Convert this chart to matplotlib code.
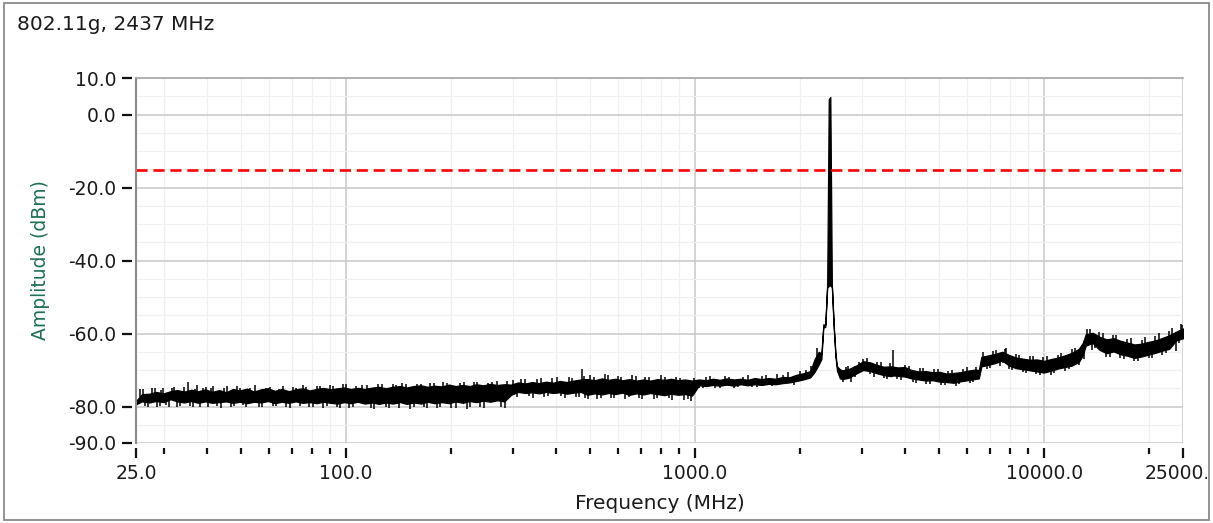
import matplotlib
matplotlib.use("Agg")
import matplotlib.pyplot as plt
from matplotlib.patches import Rectangle
from matplotlib.ticker import FixedLocator, NullFormatter
from matplotlib.transforms import offset_copy

# ---------------- data ----------------
title = "802.11g, 2437 MHz"
x_label = "Frequency (MHz)"
y_label = "Amplitude (dBm)"

# sweep frequencies (MHz) with upper / lower edge of the trace's solid core (dBm)
freq_mhz = [
    25, 26, 27.3, 28.5, 30, 31.4, 32.8, 34.4, 36, 37.7,
    39.5, 41.3, 43.3, 45.3, 47.4, 49.6, 52, 54.4, 57, 59.7,
    62.5, 65.4, 68.5, 71.7, 75, 78.6, 82.3, 86.1, 90.2, 94.4,
    98.8, 103, 108, 113, 119, 124, 130, 136, 143, 149,
    156, 164, 171, 179, 188, 197, 206, 216, 226, 236,
    247, 259, 271, 284, 297, 311, 326, 341, 357, 374,
    391, 410, 429, 449, 470, 492, 515, 540, 565, 591,
    619, 648, 679, 711, 744, 779, 816, 854, 894, 936,
    980, 1026, 1074, 1125, 1178, 1233, 1291, 1351, 1415, 1481,
    1551, 1624, 1700, 1780, 1863, 1951, 2042, 2138, 2200, 2260,
    2300, 2330, 2360, 2390, 2415, 2440, 2465, 2495, 2525, 2550,
    2600, 2640, 2760, 2890, 3030, 3170, 3320, 3470, 3640, 3700,
    3810, 3990, 4170, 4370, 4580, 4790, 5020, 5250, 5500, 5760,
    6030, 6310, 6500, 6610, 6920, 7240, 7580, 7940, 8310, 8700,
    9110, 9540, 9990, 10460, 10950, 11460, 12000, 12570, 12900, 13160,
    13780, 14420, 15100, 15810, 16560, 17330, 18150, 19000, 19890, 20830,
    21810, 22830, 23900, 25000,
]
amp_hi = [
    -78.5, -76.6, -76.5, -76.0, -76.4, -75.8, -75.5, -75.9, -75.4, -75.8,
    -75.3, -76.0, -75.5, -76.1, -75.2, -75.6, -75.1, -75.9, -75.3, -75.0,
    -75.7, -75.2, -75.8, -75.3, -75.0, -75.6, -75.2, -74.9, -75.3, -75.0,
    -74.8, -75.2, -74.9, -75.2, -74.8, -74.6, -75.0, -74.6, -74.4, -74.8,
    -74.4, -74.2, -74.6, -74.3, -74.5, -74.0, -74.4, -74.1, -74.4, -73.9,
    -74.2, -73.8, -74.1, -73.9, -74.0, -73.4, -73.7, -73.3, -73.6, -73.2,
    -73.5, -73.0, -73.3, -72.9, -72.6, -72.5, -72.8, -72.3, -72.7, -72.4,
    -72.8, -72.5, -72.9, -72.6, -72.9, -72.5, -72.7, -72.4, -72.8, -72.6,
    -72.9, -72.6, -72.8, -72.4, -72.7, -72.3, -72.6, -72.4, -72.7, -72.2,
    -72.5, -72.2, -72.4, -71.9, -72.0, -71.3, -70.9, -70.3, -67.0, -65.0,
    -65.5, -57.5, -57.6, -46.5, 4.2, 4.8, -46.6, -57.6, -65.8, -69.0,
    -69.8, -70.1, -69.7, -68.8, -67.6, -67.9, -68.6, -69.1, -69.0, -69.1,
    -69.3, -69.2, -70.0, -70.4, -70.3, -70.6, -70.5, -71.0, -70.8, -70.6,
    -70.2, -69.9, -70.0, -66.4, -66.0, -65.6, -65.0, -65.9, -66.6, -66.9,
    -67.2, -67.1, -67.5, -67.0, -66.6, -66.0, -65.3, -64.2, -62.6, -60.2,
    -59.8, -60.9, -61.6, -61.3, -62.0, -62.5, -63.0, -62.8, -62.3, -61.9,
    -61.2, -60.5, -59.5, -58.6,
]
amp_lo = [
    -79.4, -78.6, -78.9, -78.5, -78.8, -78.0, -78.6, -78.9, -78.5, -79.0,
    -78.6, -79.0, -78.8, -78.6, -79.0, -78.7, -79.1, -78.7, -78.9, -78.5,
    -79.1, -78.7, -79.0, -78.6, -79.0, -78.8, -79.1, -78.7, -79.0, -79.2,
    -78.8, -79.1, -78.7, -79.2, -78.9, -79.3, -78.9, -79.2, -78.8, -79.3,
    -78.9, -79.2, -78.7, -79.1, -78.8, -79.1, -78.6, -79.0, -78.5, -78.8,
    -78.4, -78.7, -78.3, -78.6, -76.8, -76.0, -76.3, -76.1, -76.4, -76.0,
    -76.3, -76.1, -76.5, -76.2, -76.0, -76.8, -76.4, -76.7, -76.3, -76.6,
    -76.2, -76.8, -76.4, -76.7, -76.3, -76.6, -76.9, -76.5, -76.8, -76.6,
    -77.0, -74.2, -74.4, -74.1, -74.3, -74.0, -74.3, -73.9, -74.2, -73.9,
    -74.1, -73.8, -73.9, -73.6, -73.4, -73.0, -72.6, -72.0, -70.5, -68.5,
    -67.0, -58.3, -58.2, -47.3, -47.0, -46.8, -47.3, -58.3, -66.5, -70.2,
    -72.3, -72.5, -72.1, -71.0, -70.0, -70.3, -70.9, -71.4, -71.7, -71.5,
    -71.6, -71.8, -72.3, -72.6, -72.9, -72.8, -73.2, -73.3, -73.5, -73.1,
    -72.8, -72.5, -72.3, -69.0, -68.6, -68.1, -67.4, -68.8, -69.5, -69.8,
    -70.1, -70.4, -70.7, -70.2, -69.6, -69.2, -68.8, -67.8, -66.0, -63.3,
    -62.6, -64.5, -65.4, -64.9, -65.7, -66.1, -66.7, -66.3, -65.8, -65.3,
    -64.7, -64.2, -61.9, -61.3,
]

# noise strokes sticking out of the core (MHz, bottom dBm, top dBm)
spike_freq = [
    26.2, 27.0, 28.3, 29.2, 29.9, 31.0, 32.2, 33.5, 35.2, 36.5,
    37.4, 39.0, 40.3, 41.5, 43.8, 45.6, 47.8, 49.6, 51.5, 54.8,
    57.5, 60.5, 63.0, 65.9, 69.0, 72.0, 75.2, 78.5, 82.5, 86.0,
    89.9, 94.0, 98.0, 102, 107, 115, 120, 127, 133, 139,
    145, 152, 160, 167, 174, 182, 190, 200, 212, 222,
    232, 242, 255, 270, 285, 300, 318, 335, 352, 370,
    390, 412, 435, 455, 473, 485, 500, 525, 550, 575,
    600, 630, 660, 690, 720, 760, 800, 840, 880, 930,
    975, 1050, 1100, 1180, 1250, 1330, 1420, 1500, 1600, 1720,
    1850, 2000, 2150, 2230, 2700, 2800, 2950, 3100, 3250, 3400,
    3550, 3700, 3900, 4100, 4300, 4500, 4700, 4950, 5200, 5450,
    5700, 6000, 6250, 6700, 7000, 7300, 7600, 7800, 8100, 8500,
    8900, 9300, 9700, 10200, 10700, 11200, 11800, 12300, 13000, 13500,
    14000, 14700, 15400, 16100, 16900, 17700, 18600, 19500, 20400, 21300,
    22300, 23300, 24300, 24700,
]
spike_lo = [
    -78.0, -80.0, -78.0, -79.9, -78.0, -80.1, -78.0, -79.8, -78.0, -80.2,
    -78.0, -78.0, -80.0, -78.0, -80.3, -78.0, -79.9, -78.0, -80.1, -78.0,
    -80.2, -78.0, -79.8, -78.0, -80.4, -78.0, -78.0, -80.0, -78.0, -80.3,
    -78.0, -80.1, -78.0, -80.4, -78.0, -78.0, -80.6, -78.0, -80.3, -78.0,
    -78.0, -80.8, -78.0, -80.2, -78.0, -80.5, -78.0, -80.3, -78.0, -80.6,
    -78.0, -80.1, -78.0, -78.0, -80.5, -76.0, -76.0, -77.0, -76.0, -77.3,
    -76.0, -77.2, -76.0, -77.5, -76.0, -77.8, -76.0, -78.0, -76.0, -77.6,
    -76.0, -77.9, -76.0, -77.7, -76.0, -78.0, -76.0, -77.8, -76.0, -78.2,
    -78.4, -74.8, -73.5, -74.9, -73.5, -74.7, -73.5, -74.6, -73.5, -73.5,
    -72.5, -72.0, -71.5, -68.0, -71.5, -73.4, -70.0, -69.0, -71.8, -70.0,
    -72.5, -71.0, -72.8, -71.0, -73.5, -71.5, -73.8, -71.5, -74.0, -72.0,
    -73.8, -71.5, -73.2, -68.0, -69.5, -67.0, -68.2, -67.0, -70.0, -68.0,
    -70.8, -68.5, -71.3, -68.5, -70.8, -67.5, -69.8, -66.5, -67.0, -61.0,
    -64.0, -62.0, -66.5, -63.0, -67.0, -63.5, -67.5, -63.0, -66.6, -62.0,
    -65.4, -61.0, -62.5, -60.0,
]
spike_hi = [
    -75.2, -77.0, -74.8, -77.0, -75.0, -77.0, -74.6, -77.0, -73.2, -77.0,
    -74.0, -75.0, -77.0, -74.3, -77.0, -74.5, -77.0, -75.0, -77.0, -74.2,
    -77.0, -74.6, -77.0, -74.3, -77.0, -74.8, -74.0, -77.0, -74.5, -77.0,
    -74.2, -77.0, -73.8, -77.0, -74.3, -74.0, -77.0, -73.8, -77.0, -74.2,
    -73.6, -77.0, -73.9, -77.0, -73.5, -77.0, -73.4, -77.0, -73.6, -77.0,
    -73.2, -77.0, -73.5, -73.0, -77.0, -72.8, -72.5, -75.0, -72.6, -75.0,
    -72.2, -75.0, -72.0, -75.0, -69.8, -75.0, -71.4, -75.0, -71.2, -75.0,
    -71.6, -75.0, -71.3, -75.0, -71.8, -75.0, -71.5, -75.0, -71.9, -75.0,
    -75.0, -73.0, -71.6, -73.0, -71.8, -73.0, -71.4, -73.0, -71.5, -71.2,
    -70.5, -70.2, -69.0, -64.0, -69.3, -71.0, -67.8, -66.8, -70.0, -67.9,
    -70.0, -64.6, -70.5, -68.8, -71.5, -69.4, -71.5, -69.6, -72.0, -70.0,
    -72.0, -69.2, -71.0, -65.2, -67.0, -64.6, -66.0, -64.0, -68.0, -65.8,
    -69.0, -66.3, -69.0, -66.2, -68.5, -65.4, -67.5, -64.0, -64.5, -58.8,
    -61.5, -59.8, -64.0, -60.5, -64.5, -61.2, -65.0, -61.0, -64.0, -59.8,
    -63.0, -58.5, -60.0, -57.3,
]

# second, finer set of smaller noise strokes between the first ones
fine_freq = [
    25.6, 26.6, 27.7, 28.8, 29.5, 30.4, 31.6, 32.8, 34.3, 35.8,
    36.9, 38.2, 39.7, 40.9, 42.6, 44.7, 46.7, 48.7, 50.5, 53.1,
    56.1, 59.0, 61.7, 64.4, 67.4, 70.5, 73.6, 76.8, 80.5, 84.2,
    88.0, 92.0, 96.0, 100, 104.5, 111, 117.5, 123.5, 130, 136,
    142, 148.5, 156, 163.5, 170.5, 178, 186, 195, 206, 217,
    227, 237, 248, 262, 277, 290, 309, 326, 343, 361,
    380, 401, 423, 445, 464, 479, 492, 512, 537, 562,
    587, 615, 645, 675, 705, 740, 780, 820, 860, 905,
    952, 990, 1025, 1075, 1140, 1215, 1290, 1375, 1460, 1550,
    1660, 1790, 1920, 2080, 2650, 2750, 2870, 3020, 3170, 3320,
    3480, 3620, 3800, 4000, 4200, 4400, 4600, 4820, 5080, 5320,
    5580, 5850, 6120, 6400, 6850, 7150, 7450, 7700, 7950, 8300,
    8700, 9100, 9500, 9950, 10450, 10950, 11500, 12050, 12600, 13250,
    13750, 14350, 15050, 15750, 16500, 17300, 18150, 19050, 19950, 20850,
    21800, 22800, 23800, 24900,
]
fine_lo = [
    -77.5, -79.9, -77.5, -80.0, -77.5, -79.7, -77.5, -80.1, -77.5, -79.8,
    -77.5, -80.2, -77.5, -77.5, -79.9, -77.5, -80.0, -77.5, -79.7, -77.5,
    -80.1, -77.5, -79.9, -77.5, -80.0, -77.5, -79.8, -77.5, -80.2, -77.5,
    -79.9, -77.5, -80.3, -77.5, -80.0, -77.0, -80.4, -77.0, -80.1, -77.0,
    -80.5, -77.0, -80.2, -77.0, -80.4, -77.0, -80.0, -77.0, -80.3, -77.0,
    -80.1, -77.0, -80.4, -77.0, -80.0, -77.0, -77.4, -75.0, -77.6, -75.0,
    -77.2, -75.0, -77.7, -75.0, -77.5, -75.0, -77.9, -75.0, -77.6, -75.0,
    -77.8, -75.0, -77.5, -75.0, -78.0, -75.0, -77.7, -75.0, -78.1, -75.0,
    -77.9, -75.0, -75.0, -73.5, -74.8, -73.5, -74.9, -73.5, -74.7, -73.5,
    -74.5, -73.0, -74.0, -72.0, -73.3, -71.0, -72.0, -69.0, -71.2, -69.5,
    -72.3, -70.0, -72.6, -70.5, -73.4, -71.5, -73.9, -71.5, -74.2, -72.0,
    -74.3, -71.8, -73.6, -71.0, -69.8, -66.8, -69.0, -66.3, -69.8, -67.5,
    -70.6, -68.2, -71.2, -68.5, -71.4, -67.8, -70.2, -66.3, -68.7, -61.0,
    -64.6, -61.6, -66.4, -62.3, -66.8, -63.5, -67.6, -63.8, -66.8, -62.6,
    -65.8, -61.4, -64.9, -60.0,
]
fine_hi = [
    -75.3, -77.5, -74.9, -77.5, -75.4, -77.5, -75.0, -77.5, -74.7, -77.5,
    -75.1, -77.5, -74.6, -75.0, -77.5, -74.9, -77.5, -74.5, -77.5, -75.0,
    -77.5, -74.8, -77.5, -75.1, -77.5, -74.6, -77.5, -74.7, -77.5, -74.4,
    -77.5, -74.5, -77.5, -73.9, -77.0, -74.0, -77.0, -73.7, -77.0, -73.9,
    -77.0, -73.8, -77.0, -73.7, -77.0, -73.6, -77.0, -73.5, -77.0, -73.4,
    -77.0, -73.3, -77.0, -73.4, -77.0, -73.1, -75.0, -72.4, -75.0, -72.3,
    -75.0, -72.0, -75.0, -72.1, -75.0, -71.6, -75.0, -71.8, -75.0, -71.5,
    -75.0, -71.9, -75.0, -71.7, -75.0, -72.0, -75.0, -71.8, -75.0, -72.1,
    -75.0, -72.3, -73.5, -71.9, -73.5, -71.7, -73.5, -71.8, -73.5, -71.6,
    -73.0, -71.3, -72.0, -70.0, -71.0, -69.0, -69.0, -66.9, -69.5, -67.8,
    -70.0, -68.2, -70.5, -68.5, -71.5, -69.5, -71.5, -69.6, -72.0, -70.2,
    -72.0, -69.8, -71.0, -69.2, -66.8, -64.8, -66.3, -64.3, -67.5, -65.5,
    -68.2, -66.2, -68.5, -66.5, -67.8, -65.8, -66.3, -64.3, -66.0, -58.9,
    -61.6, -59.6, -62.3, -60.3, -63.5, -61.5, -63.8, -61.8, -62.6, -60.6,
    -61.4, -59.4, -60.0, -57.8,
]
limit_dbm = -15.2

x_ticks = [25, 100, 1000, 10000, 25000]
x_tick_labels = ["25.0", "100.0", "1000.0", "10000.0", ""]
x_last_label = "25000.0"
x_minor = [30, 40, 50, 60, 70, 80, 90,
           200, 300, 400, 500, 600, 700, 800, 900,
           2000, 3000, 4000, 5000, 6000, 7000, 8000, 9000, 20000]
y_ticks = [10, 0, -20, -40, -60, -80, -90]
y_tick_labels = ["10.0", "0.0", "-20.0", "-40.0", "-60.0", "-80.0", "-90.0"]
y_minor = [5, -5, -10, -15, -25, -30, -35, -45, -50, -55, -65, -70, -75, -85]

assert len(freq_mhz) == len(amp_hi) == len(amp_lo)
assert len(spike_freq) == len(spike_lo) == len(spike_hi)
assert len(fine_freq) == len(fine_lo) == len(fine_hi)

# ---------------- figure ----------------
W, H = 1213, 523
plt.rcParams["font.family"] = ["DejaVu Sans"]
plt.rcParams["lines.scale_dashes"] = False
fig = plt.figure(figsize=(W / 100, H / 100), dpi=100)
fig.patch.set_facecolor("white")

L, R, T, B = 136, 1183, 78, 443
ax = fig.add_axes([L / W, 1 - B / H, (R - L) / W, (B - T) / H])
ax.set_xscale("log")
ax.set_xlim(25, 25000)
ax.set_ylim(-90, 10)
ax.set_axisbelow(True)

TICK_FS = 13.5
# trace
ax.fill_between(freq_mhz, amp_lo, amp_hi,
                facecolor="black", edgecolor="black", linewidth=0.9, zorder=3)
ax.vlines(spike_freq, spike_lo, spike_hi, colors="black", linewidth=1.1, zorder=3)
ax.vlines(fine_freq, fine_lo, fine_hi, colors="black", linewidth=1.1, zorder=3)
# limit line
ax.axhline(limit_dbm, color="#ff0000", linewidth=1.9, dashes=(8.0, 4.2), zorder=4)

# ticks / grid
ax.xaxis.set_major_locator(FixedLocator(x_ticks))
ax.set_xticklabels(x_tick_labels)
ax.xaxis.set_minor_locator(FixedLocator(x_minor))
ax.xaxis.set_minor_formatter(NullFormatter())
ax.yaxis.set_major_locator(FixedLocator(y_ticks))
ax.set_yticklabels(y_tick_labels)
ax.yaxis.set_minor_locator(FixedLocator(y_minor))
ax.yaxis.set_minor_formatter(NullFormatter())

ax.grid(which="major", color="#c8c8c8", linewidth=1.1)
ax.grid(which="minor", color="#f0f0f0", linewidth=0.9)

OUT_X, OUT_Y, TLEN, PAD = 3.6, 3.0, 7.2, 4.0
ax.tick_params(axis="both", which="major", length=TLEN, width=1.6, color="#111111",
               labelsize=TICK_FS, labelcolor="#1a1a1a", pad=PAD)
ax.tick_params(axis="x", which="minor", length=4.6, width=1.6, color="#111111")
ax.tick_params(axis="y", which="minor", length=0)

for side in ["top", "right"]:
    ax.spines[side].set_visible(False)
ax.spines["left"].set_position(("outward", OUT_Y))
ax.spines["bottom"].set_position(("outward", OUT_X))
ax.spines["left"].set_visible(False)
ax.spines["bottom"].set_visible(False)

# left axis line and top border
ax.plot([0, 0], [0, 1], transform=ax.transAxes, color="#8a8a8a",
        linewidth=1.5, clip_on=False, zorder=5)
ax.plot([0, 1], [1, 1], transform=ax.transAxes, color="#a8a8a8",
        linewidth=1.2, clip_on=False, zorder=5)

# outer frame
frame_rect = Rectangle((4 / W, 1 - 520 / H), (1209 - 4) / W, (520 - 3) / H,
                       transform=fig.transFigure, fill=False,
                       edgecolor="#8a8a8a", linewidth=1.3)
fig.add_artist(frame_rect)

# last x label, clipped by the outer frame like the reference
clip_rect = Rectangle((0, 0), 1207 / W, 1, transform=fig.transFigure)
lbl = ax.text(25000, 0.0, x_last_label,
              transform=offset_copy(ax.get_xaxis_transform(), fig=fig, x=0,
                                    y=-(OUT_X + TLEN + PAD), units="points"),
              ha="center", va="top", fontsize=TICK_FS, color="#1a1a1a")
lbl.set_clip_path(clip_rect)
lbl.set_clip_on(True)

# labels
ax.set_xlabel(x_label, fontsize=14.5, color="#1a1a1a")
ax.xaxis.set_label_coords(0.5, -0.14)
ax.set_ylabel(y_label, fontsize=13.5, color="#1f6f55")
ax.yaxis.set_label_coords(-0.082, 0.5)

fig.text(17 / W, 1 - 25 / H, title, ha="left", va="center",
         fontsize=14.5, color="#1a1a1a")

fig.savefig("out.png", dpi=100, facecolor="white")
